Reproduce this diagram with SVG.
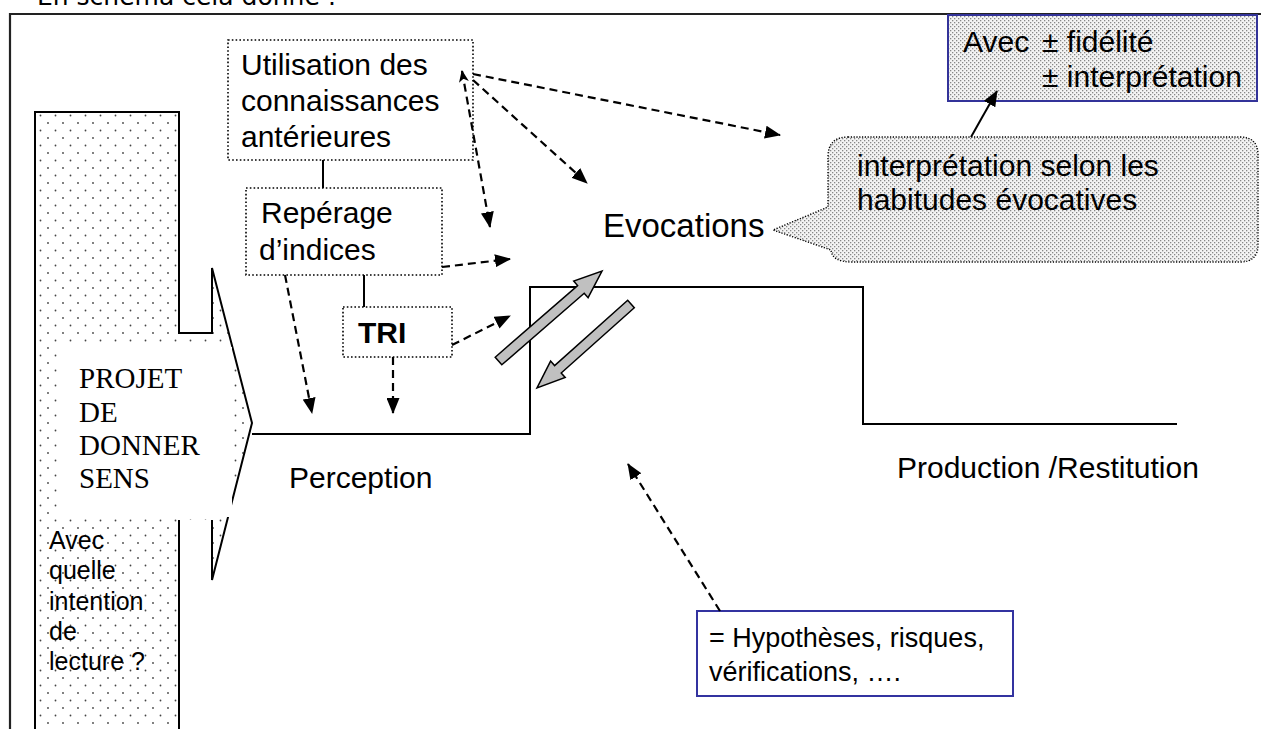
<svg xmlns="http://www.w3.org/2000/svg" width="1261" height="729" viewBox="0 0 1261 729">
<style>
.t{font-family:"Liberation Sans",Arial,sans-serif;font-size:30px;fill:#000}
.serif{font-family:"Liberation Serif","Times New Roman",serif;font-size:29px;fill:#000}
.small{font-size:25px}
.dotbox{fill:#fff;stroke:#000;stroke-width:1.6;stroke-dasharray:1.6 2.2}
.solid{fill:none;stroke:#000;stroke-width:2}
.dash{fill:none;stroke:#000;stroke-width:2.2;stroke-dasharray:8 5}
.block{fill:#c0c0c0;stroke:#000;stroke-width:1.5;stroke-linejoin:miter}
</style>
<defs>
<pattern id="sparse" width="15" height="15" patternUnits="userSpaceOnUse">
<circle cx="3" cy="3" r="0.9" fill="#444"/>
<circle cx="10.5" cy="10.5" r="0.9" fill="#444"/>
</pattern>
<pattern id="dense" width="4" height="4" patternUnits="userSpaceOnUse">
<rect width="4" height="4" fill="#f4f4f4"/>
<rect x="0" y="0" width="1.3" height="1.3" fill="#888"/>
<rect x="2" y="2" width="1.3" height="1.3" fill="#888"/>
</pattern>
<marker id="ah" viewBox="0 0 16 13" refX="15" refY="6.5" markerWidth="16" markerHeight="13" markerUnits="userSpaceOnUse" orient="auto">
<path d="M0,0 L16,6.5 L0,13 Z" fill="#000"/>
</marker>
<marker id="ahs" viewBox="0 0 12 10" refX="11" refY="5" markerWidth="12" markerHeight="10" markerUnits="userSpaceOnUse" orient="auto-start-reverse">
<path d="M0,0 L12,5 L0,10 L3,5 Z" fill="#000"/>
</marker>
</defs>
<rect width="1261" height="729" fill="#fff"/>

<text x="37" y="5" style="font-family:'DejaVu Sans',Verdana,sans-serif;font-size:25px">En schéma cela donne :</text>

<g id="frame">
<path d="M10,729 L10,14 L1261,14" fill="none" stroke="#222" stroke-width="2.2"/>
</g>

<g id="projet">
<path d="M35,112 L179,112 L179,333 L212,333 L212,268 L252,423 L212,580 L212,520 L179,520 L179,740 L35,740 Z" fill="url(#sparse)"/>
<path d="M35,740 L35,112 L179,112 L179,333 L212,333 L212,268 L252,423 L212,580 L212,520 M179,520 L179,740" class="solid"/>
<rect x="60" y="347" width="172" height="170" fill="#fff"/>
<text class="serif" x="79" y="388">PROJET</text>
<text class="serif" x="79" y="422">DE</text>
<text class="serif" x="79" y="455">DONNER</text>
<text class="serif" x="79" y="488">SENS</text>
<text class="t small" x="49" y="549">Avec</text>
<text class="t small" x="49" y="579">quelle</text>
<text class="t small" x="49" y="610">intention</text>
<text class="t small" x="49" y="640">de</text>
<text class="t small" x="49" y="670">lecture ?</text>
</g>

<g id="utilisation">
<rect class="dotbox" x="228" y="40" width="245" height="120"/>
<text class="t" x="241" y="75">Utilisation des</text>
<text class="t" x="241" y="111">connaissances</text>
<text class="t" x="241" y="147">antérieures</text>
</g>

<g id="reperage">
<rect class="dotbox" x="246" y="188" width="196" height="87"/>
<text class="t" x="261" y="223">Repérage</text>
<text class="t" x="259" y="260">d’indices</text>
</g>

<g id="tri">
<rect class="dotbox" x="343" y="307" width="109" height="50"/>
<text class="t" x="358" y="343" font-weight="bold">TRI</text>
</g>

<g id="evocations">
<text class="t" style="font-size:33px" x="603" y="237">Evocations</text>
</g>

<g id="perception">
<text class="t" x="289" y="488">Perception</text>
</g>

<g id="production">
<text class="t" x="897" y="478">Production /Restitution</text>
</g>

<g id="cloud">
<path d="M848,137 L1240,137 Q1258,137 1258,155 L1258,245 Q1258,262 1240,262 L852,262 Q832,262 831,250 L773,230 L828,207 L828,157 Q828,137 848,137 Z" fill="url(#dense)" stroke="#000" stroke-width="1.4" stroke-dasharray="1.2 1.6"/>
<text class="t" x="857" y="176">interprétation selon les</text>
<text class="t" x="857" y="210">habitudes évocatives</text>
</g>

<g id="fidelite">
<rect x="948" y="15" width="309" height="86" fill="url(#dense)" stroke="#333399" stroke-width="2"/>
<text class="t" x="963" y="52">Avec</text>
<text class="t" x="1042" y="52">± fidélité</text>
<text class="t" x="1042" y="87">± interprétation</text>
</g>

<g id="hypotheses">
<rect x="697" y="611" width="316" height="85" fill="#fff" stroke="#3333a0" stroke-width="2"/>
<text class="t" style="font-size:27px" x="709" y="647">= Hypothèses, risques,</text>
<text class="t" style="font-size:27px" x="709" y="681">vérifications, ….</text>
</g>

<g id="connectors">
<path class="solid" d="M252,434 L530,434 L530,287 L863,287 L863,424 L1177,424"/>
<line class="solid" x1="323" y1="160" x2="323" y2="188" stroke-width="1.5"/>
<line class="solid" x1="364" y1="275" x2="364" y2="307" stroke-width="1.5"/>
<line class="dash" x1="473" y1="74" x2="780" y2="135" marker-end="url(#ah)"/>
<line class="dash" x1="473" y1="80" x2="587" y2="183" marker-end="url(#ah)"/>
<line class="dash" x1="462" y1="71" x2="490" y2="227" marker-start="url(#ahs)" marker-end="url(#ah)"/>
<line class="dash" x1="442" y1="267" x2="510" y2="259" marker-end="url(#ah)"/>
<line class="dash" x1="452" y1="345" x2="510" y2="316" marker-end="url(#ah)"/>
<line class="dash" x1="285" y1="275" x2="312" y2="413" marker-end="url(#ah)"/>
<line class="dash" x1="393" y1="357" x2="393" y2="413" marker-end="url(#ah)"/>
<line class="dash" x1="720" y1="611" x2="628" y2="464" marker-end="url(#ah)"/>
<line class="solid" x1="971" y1="137" x2="997" y2="91" stroke-width="2" marker-end="url(#ah)"/>
<polygon class="block" points="501.8,364.8 584.2,293.2 588.1,297.7 602,271 573.7,281.1 577.6,285.6 495.2,357.2"/>
<polygon class="block" points="634.3,307.7 561.2,373.0 565.2,377.5 537,388 550.6,361.1 554.6,365.6 627.7,300.3"/>
</g>
</svg>
